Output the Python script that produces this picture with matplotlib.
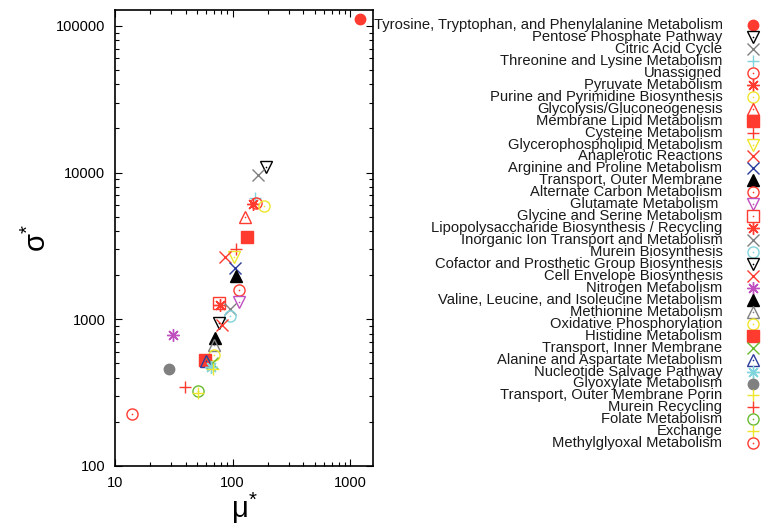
import matplotlib
matplotlib.use("Agg")
import matplotlib.pyplot as plt
from matplotlib.ticker import LogLocator, NullFormatter

plt.rcParams['font.family'] = ['Liberation Sans', 'DejaVu Sans']
plt.rcParams['mathtext.fontset'] = 'custom'
plt.rcParams['mathtext.rm'] = 'Liberation Sans'

# pathway groups, in plotting / legend order
groups = [
    "Tyrosine, Tryptophan, and Phenylalanine Metabolism",
    "Pentose Phosphate Pathway",
    "Citric Acid Cycle",
    "Threonine and Lysine Metabolism",
    "Unassigned",
    "Pyruvate Metabolism",
    "Purine and Pyrimidine Biosynthesis",
    "Glycolysis/Gluconeogenesis",
    "Membrane Lipid Metabolism",
    "Cysteine Metabolism",
    "Glycerophospholipid Metabolism",
    "Anaplerotic Reactions",
    "Arginine and Proline Metabolism",
    "Transport, Outer Membrane",
    "Alternate Carbon Metabolism",
    "Glutamate Metabolism ",
    "Glycine and Serine Metabolism",
    "Lipopolysaccharide Biosynthesis / Recycling",
    "Inorganic Ion Transport and Metabolism",
    "Murein Biosynthesis",
    "Cofactor and Prosthetic Group Biosynthesis",
    "Cell Envelope Biosynthesis",
    "Nitrogen Metabolism",
    "Valine, Leucine, and Isoleucine Metabolism",
    "Methionine Metabolism",
    "Oxidative Phosphorylation",
    "Histidine Metabolism",
    "Transport, Inner Membrane",
    "Alanine and Aspartate Metabolism",
    "Nucleotide Salvage Pathway",
    "Glyoxylate Metabolism",
    "Transport, Outer Membrane Porin",
    "Murein Recycling",
    "Folate Metabolism",
    "Exchange",
    "Methylglyoxal Metabolism",
]

mu_star = [1216, 194, 164, 155, 157, 150, 185, 127, 134, 107, 102.6, 86.5,
           105, 108, 113, 113, 76.4, 78, 95, 94.3, 76.4, 81.6,
           31.3, 71.1, 70.2, 70.2, 58.7, 67, 59.9, 65.7, 28.9, 68.4,
           39.6, 50.6, 51.2, 13.9]

sigma_star = [111400, 10970, 9690, 6710, 6180, 6110, 5915, 5000, 3620, 3010, 2670, 2650,
              2250, 1970, 1585, 1318, 1285, 1250, 1175, 1053, 948, 914,
              785, 750, 668, 571, 528, 501, 522, 471, 458, 458,
              344, 326, 316, 227]

# marker kinds and colours, one per group
kinds = ['fc', 'dt', 'x', '+', 'cd', '*', 'cd', 'ut', 'fs', '+', 'dt', 'x',
         'x', 'ft', 'cd', 'dt', 'sq', '*', 'x', 'cd', 'dt', 'x',
         '*', 'ft', 'ut', 'cd', 'fs', 'x', 'ut', '*', 'fc', '+',
         '+', 'cd', '+', 'cd']

RED, BLK, GRY, CYN = '#ff3b30', '#000000', '#808080', '#80d4dc'
YEL, MAG, BLU, GRN = '#eee62c', '#c050c0', '#2c3c9c', '#68bb30'
colors = [RED, BLK, GRY, CYN, RED, RED, YEL, RED, RED, RED, YEL, RED,
          BLU, BLK, RED, MAG, RED, RED, GRY, CYN, BLK, RED,
          MAG, BLK, GRY, YEL, RED, GRN, BLU, CYN, GRY, YEL,
          RED, GRN, YEL, RED]

# kind -> (marker, size, filled, centre dot)
marker_style = {
    'fc': ('o', 7.5, True, False),
    'cd': ('o', 8, False, True),
    'dt': ('v', 8, False, True),
    'ut': ('^', 8, False, True),
    'ft': ('^', 8, True, False),
    'fs': ('s', 8, True, False),
    'sq': ('s', 8, False, True),
    'x': ('x', 8, False, False),
    '+': ('+', 9, False, False),
    '*': ((8, 2, 0), 9, False, False),
}


def draw_marker(ax, x, y, kind, color, **kw):
    m, ms, filled, dot = marker_style[kind]
    ax.plot([x], [y], linestyle='none', marker=m, ms=ms, mew=1.0,
            mec=color, mfc=color if filled else 'none', clip_on=False, **kw)
    if dot:
        ax.plot([x], [y], linestyle='none', marker='o', ms=1.2, mew=0,
                mfc=color, clip_on=False, **kw)


fig = plt.figure(figsize=(7.61, 5.25), dpi=100)
ax = fig.add_axes([0.1511, 0.1124, 0.3387, 0.8686])

for x, y, k, c in zip(mu_star, sigma_star, kinds, colors):
    draw_marker(ax, x, y, k, c)

ax.set_xscale('log')
ax.set_yscale('log')
ax.set_xlim(10, 1560)
ax.set_ylim(100, 128500)
ax.xaxis.set_major_locator(LogLocator(base=10))
ax.yaxis.set_major_locator(LogLocator(base=10))
ax.xaxis.set_minor_locator(LogLocator(base=10, subs=range(2, 10)))
ax.yaxis.set_minor_locator(LogLocator(base=10, subs=range(2, 10)))
ax.xaxis.set_minor_formatter(NullFormatter())
ax.yaxis.set_minor_formatter(NullFormatter())
ax.xaxis.set_major_formatter(plt.FuncFormatter(lambda v, p: '%d' % v))
ax.yaxis.set_major_formatter(plt.FuncFormatter(lambda v, p: '%d' % v))
ax.tick_params(which='both', direction='in', top=True, right=True,
               width=0.8, labelsize=10.5)
ax.tick_params(which='major', length=5, pad=7)
ax.tick_params(which='minor', length=3)
for s in ax.spines.values():
    s.set_linewidth(1.2)

ax.set_xlabel(r'$\mathregular{\mu^{*}}$', fontsize=21, labelpad=1)
ax.set_ylabel(r'$\mathregular{\sigma^{*}}$', fontsize=21, labelpad=3)

# legend on the right: right-aligned labels, symbol after the text
lax = fig.add_axes([0, 0, 1, 1])
lax.set_xlim(0, 1)
lax.set_ylim(0, 1)
lax.axis('off')
top = 1 - 25 / 525.0
step = 11.95 / 525.0
for i, (name, k, c) in enumerate(zip(groups, kinds, colors)):
    yy = top - i * step
    lax.text(722.5 / 761.0, yy, name, ha='right', va='center',
             fontsize=10.6, color='#1a1a1a')
    draw_marker(lax, 753 / 761.0, yy, k, c)

fig.savefig('out.png', dpi=100)
